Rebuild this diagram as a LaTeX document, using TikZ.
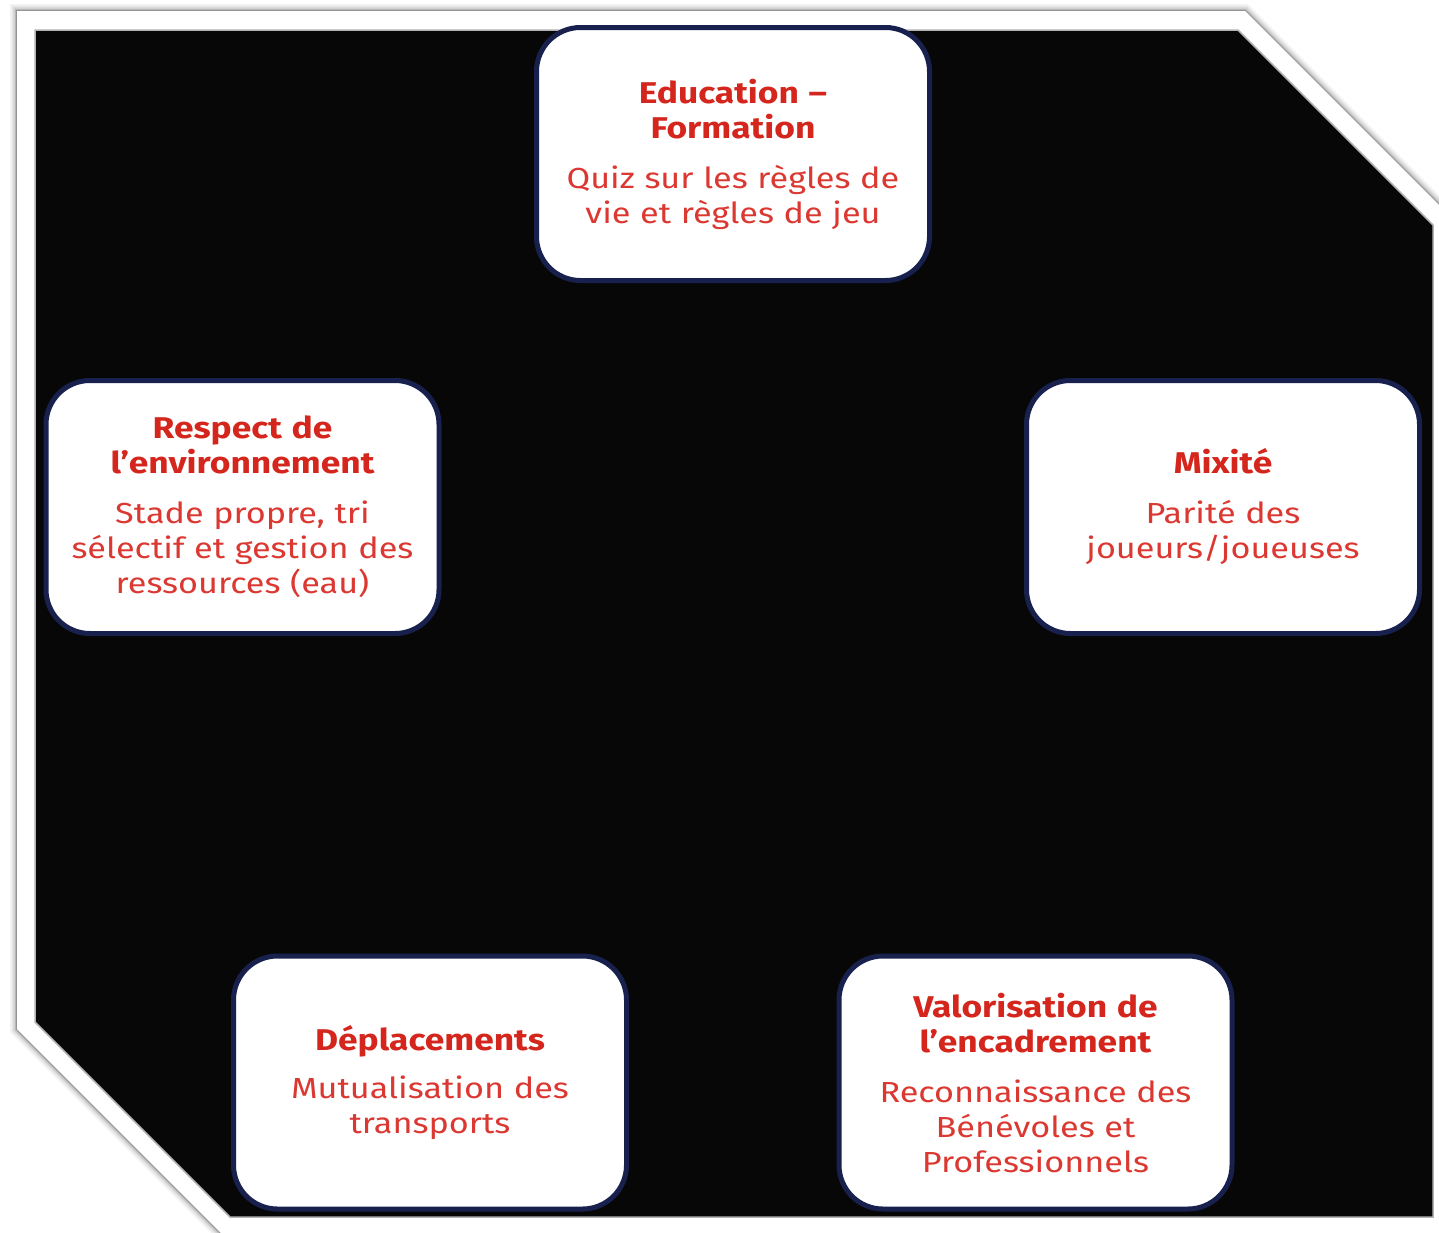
\documentclass[tikz,border=0pt]{standalone}
\usepackage{fontspec}
\setmainfont{Fira Sans}[FakeStretch=1.18]
\definecolor{bgblack}{HTML}{070707}
\definecolor{navy}{HTML}{18214D}
\definecolor{titlered}{HTML}{D4261C}
\definecolor{bodyred}{HTML}{DB3832}
\tikzset{
  card/.style={draw=navy, line width=5pt, fill=white, rounded corners=44pt,
    minimum width=393pt, minimum height=253pt, align=center, text width=388pt,
    inner sep=0pt, text=bodyred, font=\fontsize{29}{35}\selectfont},
}
\newcommand{\cardtitle}[1]{{\fontsize{30}{37}\selectfont\bfseries\color{titlered}#1}}
\begin{document}
\begin{tikzpicture}[x=1pt,y=-1pt]
\useasboundingbox (0,0) rectangle (1439,1232);
\fill[white] (0,0) rectangle (1439,1232);
\begin{scope}
\clip (0,0) rectangle (1439,1232);
% soft shadow of the white frame
\foreach \w/\op in {14/0.05,10/0.06,7/0.08,4/0.12,2/0.18}{
  \draw[black, opacity=\op, line width=\w pt, line join=miter]
    (17,11) -- (1245,11) -- (1470,236) -- (1470,1260) -- (248,1260) -- (17,1029) -- cycle;
}
\fill[white] (17,11) -- (1245,11) -- (1470,236) -- (1470,1260) -- (248,1260) -- (17,1029) -- cycle;
% black field
\draw[gray!60, line width=1.5pt, fill=bgblack]
  (35,30) -- (1238,30) -- (1433,225) -- (1433,1217) -- (230,1217) -- (35,1022) -- cycle;
\end{scope}
% cards
\node[card] (edu) at (733,154) {\cardtitle{Education –\\Formation}\\[15pt]Quiz sur les règles de\\vie et règles de jeu};
\node[card] (env) at (242.5,507) {\cardtitle{Respect de\\l’environnement}\\[15pt]Stade propre, tri\\sélectif et gestion des\\ressources (eau)};
\node[card] (mix) at (1223,507) {\cardtitle{Mixité}\\[15pt]Parité des\\joueurs/joueuses};
\node[card] (dep) at (430,1082.5) {\cardtitle{Déplacements}\\[13pt]Mutualisation des\\transports};
\node[card] (val) at (1035.5,1082.5) {\cardtitle{Valorisation de\\l’encadrement}\\[15pt]Reconnaissance des\\Bénévoles et\\Professionnels};
\end{tikzpicture}
\end{document}
